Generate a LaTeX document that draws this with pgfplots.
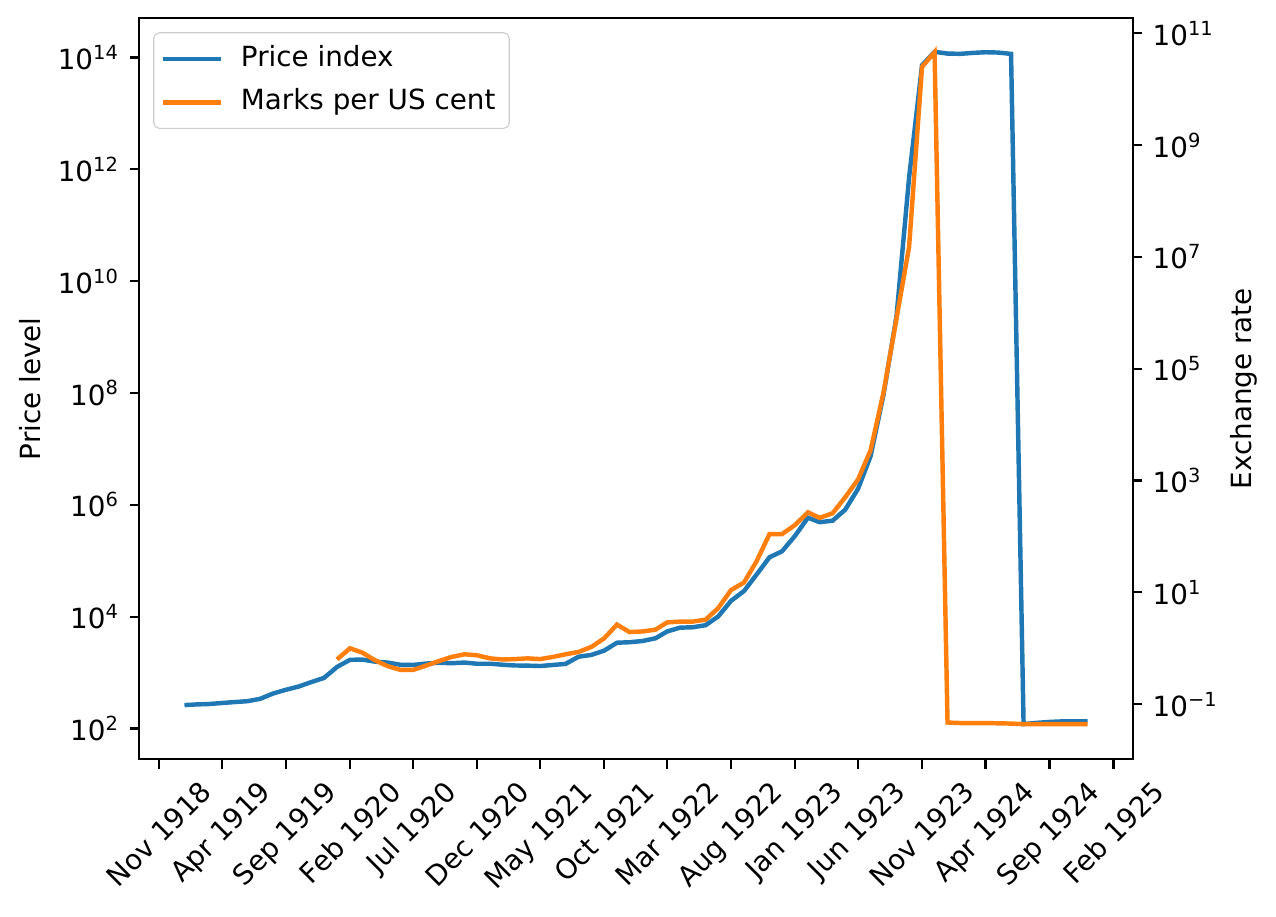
\documentclass[border=0pt]{standalone}
\usepackage{fontspec}
\setmainfont{DejaVu Sans}
\usepackage{graphicx}
\usepackage{pgfplots}
\usepackage{pgfplotstable}
\pgfplotsset{compat=1.18}
\definecolor{tabblue}{HTML}{1F77B4}
\definecolor{taborange}{HTML}{FF7F0E}

% day = days since 1 Jan 1919 (first of each month)
\pgfplotstableread{
day value
0 262
31 270
59 274
90 286
120 297
151 308
181 339
212 422
243 493
273 562
304 678
334 803
365 1260
396 1690
425 1710
456 1570
486 1510
517 1380
547 1370
578 1450
609 1500
639 1470
670 1510
700 1440
731 1440
762 1380
790 1340
821 1330
851 1310
882 1370
912 1430
943 1920
974 2070
1004 2460
1035 3420
1065 3490
1096 3670
1127 4100
1155 5430
1186 6360
1216 6460
1247 7030
1277 10060
1308 19200
1339 28700
1369 56600
1400 115400
1430 147500
1461 278500
1492 588500
1520 488800
1551 521200
1581 817000
1612 1938500
1642 7478700
1673 94404100
1704 2394889300
1734 709480000000
1765 72570000000000
1795 126160000000000
1826 117320000000000
1857 116170000000000
1886 120670000000000
1917 124050000000000
1947 122460000000000
1978 115900000000000
2008 120
2039 126
2070 131
2100 134
2131 134
2161 135
}\pricedata

\pgfplotstableread{
day value
365 0.63
396 1.0
425 0.84
456 0.61
486 0.48
517 0.41
547 0.41
578 0.49
609 0.59
639 0.70
670 0.78
700 0.75
731 0.66
762 0.63
790 0.64
821 0.66
851 0.64
882 0.70
912 0.78
943 0.86
974 1.06
1004 1.50
1035 2.65
1065 1.95
1096 2.0
1127 2.15
1155 2.9
1186 3.0
1216 3.0
1247 3.25
1277 5.2
1308 11.0
1339 15.0
1369 36
1400 110
1430 110
1461 160
1492 270
1520 215
1551 260
1581 500
1612 1050
1642 3500
1673 38000
1704 800000
1734 15000000
1765 25000000000
1795 46000000000
1826 0.047
1857 0.046
1886 0.046
1917 0.046
1947 0.0455
1978 0.045
2008 0.044
2039 0.044
2070 0.044
2100 0.044
2131 0.044
2161 0.044
}\ratedata

\begin{document}
\begin{tikzpicture}
\begin{axis}[
  scale only axis, width=357.6pt, height=266.7pt,
  at={(0,0)}, anchor=south west,
  xmin=-108.05, xmax=2269.05,
  ymode=log, log basis y=10,
  xminorticks=false, yminorticks=false,
  tick align=outside, major tick length=3.5pt,
  every tick/.style={black, line width=0.8pt},
  axis line style={line width=0.8pt},
  tick label style={font=\fontsize{10}{12}\selectfont},
  label style={font=\fontsize{10}{12}\selectfont},
  xtick={-61,90,243,396,547,700,851,1004,1155,1308,1461,1612,1765,1917,2070,2223},
  xticklabels={\rotatebox{45}{Nov 1918},\rotatebox{45}{Apr 1919},\rotatebox{45}{Sep 1919},\rotatebox{45}{Feb 1920},\rotatebox{45}{Jul 1920},\rotatebox{45}{Dec 1920},\rotatebox{45}{May 1921},\rotatebox{45}{Oct 1921},\rotatebox{45}{Mar 1922},\rotatebox{45}{Aug 1922},\rotatebox{45}{Jan 1923},\rotatebox{45}{Jun 1923},\rotatebox{45}{Nov 1923},\rotatebox{45}{Apr 1924},\rotatebox{45}{Sep 1924},\rotatebox{45}{Feb 1925}},
  xticklabel style={anchor=north, inner sep=3.5pt},
  xtick pos=bottom, ytick pos=left,
  ymin=28.25, ymax=5.01e14,
  ytick={1e2,1e4,1e6,1e8,1e10,1e12,1e14},
  yticklabels={10\textsuperscript{2},10\textsuperscript{4},10\textsuperscript{6},10\textsuperscript{8},10\textsuperscript{10},10\textsuperscript{12},10\textsuperscript{14}},
  yticklabel style={inner sep=3.5pt},
  ylabel={Price level}, ylabel shift=-1pt,
]
\addplot[tabblue, line width=1.6pt] table[x=day, y=value] {\pricedata};
\coordinate (bl) at (rel axis cs:0,0);
\coordinate (tr) at (rel axis cs:1,1);
\end{axis}
\begin{axis}[
  scale only axis, width=357.6pt, height=266.7pt,
  at={(0,0)}, anchor=south west,
  xmin=-108.05, xmax=2269.05,
  ymode=log, log basis y=10,
  xminorticks=false, yminorticks=false,
  tick align=outside, major tick length=3.5pt,
  every tick/.style={black, line width=0.8pt},
  axis line style={line width=0.8pt},
  tick label style={font=\fontsize{10}{12}\selectfont},
  label style={font=\fontsize{10}{12}\selectfont},
  axis y line*=right, axis x line=none,
  ymin=0.01038, ymax=1.845e11,
  ytick={1e-1,1e1,1e3,1e5,1e7,1e9,1e11},
  yticklabels={10\textsuperscript{−1},10\textsuperscript{1},10\textsuperscript{3},10\textsuperscript{5},10\textsuperscript{7},10\textsuperscript{9},10\textsuperscript{11}},
  yticklabel style={inner sep=3.5pt},
  ylabel={Exchange rate}, ylabel shift=-2.5pt,
  legend cell align=left,
  legend style={at={(0,1)}, anchor=north west, xshift=5pt, yshift=-5pt,
    draw=black!20, rounded corners=2pt, fill=white,
    font=\fontsize{10}{12}\selectfont,
    inner xsep=2.5pt, inner ysep=2pt, row sep=1pt,
    nodes={inner sep=2.5pt, text height=7.5pt, text depth=2.2pt},
    /tikz/every odd column/.append style={column sep=3.8pt}},
  legend image code/.code={\draw[#1] (0pt,0pt) -- (21pt,0pt);},
]
\addlegendimage{tabblue, line width=1.6pt}
\addlegendentry{Price index}
\addplot[taborange, line width=1.6pt] table[x=day, y=value] {\ratedata};
\addlegendentry{Marks per US cent}
\end{axis}
\pgfresetboundingbox
\path[use as bounding box] ([xshift=-50.15pt,yshift=-56.5pt]bl) rectangle ([xshift=51.6pt,yshift=6.6pt]tr);
\end{tikzpicture}
\end{document}
